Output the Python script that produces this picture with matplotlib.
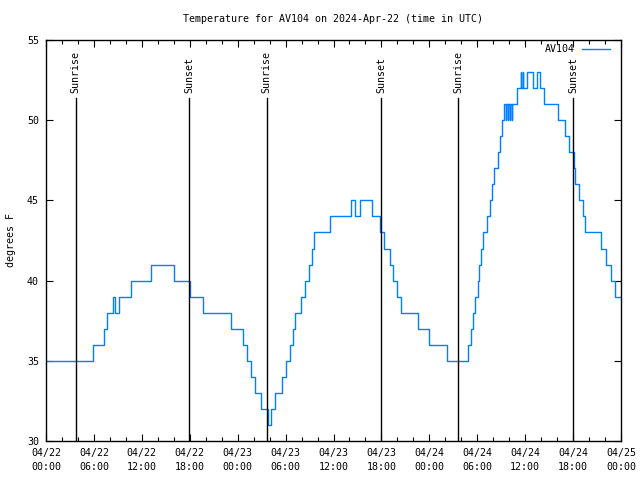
import matplotlib
matplotlib.use("Agg")
import matplotlib.pyplot as plt
import matplotlib.dates as mdates
import pandas as pd

START = "2024-04-22 00:00"
TITLE = "Temperature for AV104 on 2024-Apr-22 (time in UTC)"
SERIES = "AV104"

# change points: hours since start, temperature (deg F)
hours = [0.0, 5.86, 7.20, 7.70, 8.39, 8.55, 8.70, 9.20, 10.64, 13.21, 15.97, 17.97,
         19.70, 23.20, 24.73, 25.23, 25.73, 26.23, 26.92, 27.74, 28.17, 28.68, 29.49,
         29.99, 30.55, 30.99, 31.24, 31.99, 32.49, 32.87, 33.25, 33.50, 35.50, 38.13,
         38.63, 39.38, 40.88, 41.82, 42.32, 43.08, 43.39, 43.89, 44.39, 46.64, 48.02,
         50.15, 52.90, 53.22, 53.47, 53.72, 54.09, 54.28, 54.47, 54.66, 55.16, 55.60,
         55.85, 56.10, 56.60, 56.85, 57.10, 57.41, 57.54, 57.66, 57.79, 57.91, 58.04,
         58.16, 58.29, 58.41, 58.92, 59.42, 59.54, 59.67, 59.79, 60.23, 60.92, 61.42,
         61.86, 62.42, 64.17, 64.93, 65.55, 66.12, 66.30, 66.68, 67.18, 67.49, 69.44,
         70.12, 70.69, 71.31, 71.88]
temps = [35, 36, 37, 38, 39, 39, 38, 39, 40, 41, 40, 39,
         38, 37, 36, 35, 34, 33, 32, 31, 32, 33, 34,
         35, 36, 37, 38, 39, 40, 41, 42, 43, 44, 45,
         44, 45, 44, 43, 42, 41, 40, 39, 38, 37, 36,
         35, 36, 37, 38, 39, 40, 41, 42, 43, 44, 45,
         46, 47, 48, 49, 50, 51, 50, 51, 50, 51, 50,
         51, 50, 51, 52, 53, 52, 53, 52, 53, 52, 53,
         52, 51, 50, 49, 48, 47, 46, 45, 44, 43, 42,
         41, 40, 39, 39]

sun_hours = [3.70, 17.95, 27.62, 41.98, 51.62, 66.02]
sun_labels = ["Sunrise", "Sunset", "Sunrise", "Sunset", "Sunrise", "Sunset"]

xlim_hours = [0, 72]
ylim = [30, 55]
yticks = [30, 35, 40, 45, 50, 55]

t0 = pd.Timestamp(START)
times = [t0 + pd.Timedelta(hours=h) for h in hours]
sun_times = [t0 + pd.Timedelta(hours=h) for h in sun_hours]

plt.rcParams['font.family'] = ['DejaVu Sans Mono']
FS = 7.2

fig = plt.figure(figsize=(6.4, 4.8), dpi=100)
ax = fig.add_axes([46/640, 1-441/480, (621-46)/640, (441-40)/480])

ax.plot(times, temps, drawstyle='steps-post', color='#0080ff', lw=1.0, label=SERIES)

for st, lab in zip(sun_times, sun_labels):
    ax.axvline(st, ymin=0, ymax=0.855, color='black', lw=1.0)
    ax.text(st, 0.868, lab, transform=ax.get_xaxis_transform(), rotation=90,
            ha='center', va='bottom', fontsize=FS)

ax.set_xlim(t0 + pd.Timedelta(hours=xlim_hours[0]), t0 + pd.Timedelta(hours=xlim_hours[1]))
ax.set_ylim(*ylim)
ax.set_yticks(yticks)
ax.xaxis.set_major_locator(mdates.HourLocator(byhour=range(0, 24, 6)))
ax.xaxis.set_minor_locator(mdates.HourLocator(byhour=range(0, 24, 2)))
ax.xaxis.set_major_formatter(mdates.DateFormatter('%m/%d\n%H:%M'))

ax.tick_params(axis='both', which='both', direction='in', top=True, right=True,
               labelsize=FS, width=0.8)
ax.tick_params(axis='both', which='major', length=5, pad=5)
ax.tick_params(axis='x', which='minor', length=3)
for lbl in ax.get_xticklabels():
    lbl.set_ha('center')
    lbl.set_linespacing(1.45)
for sp in ax.spines.values():
    sp.set_linewidth(1.0)

ax.set_ylabel("degrees F", fontsize=FS, labelpad=8)
fig.text(333/640, 1-19/480, TITLE, ha='center', va='center', fontsize=FS)

ax.legend(loc='upper right', frameon=False, fontsize=FS, markerfirst=False,
          handlelength=2.8, handletextpad=0.7, borderaxespad=0.2,
          bbox_to_anchor=(1 - 5/575, 1 + 2/401))

fig.savefig("out.png", dpi=100)
